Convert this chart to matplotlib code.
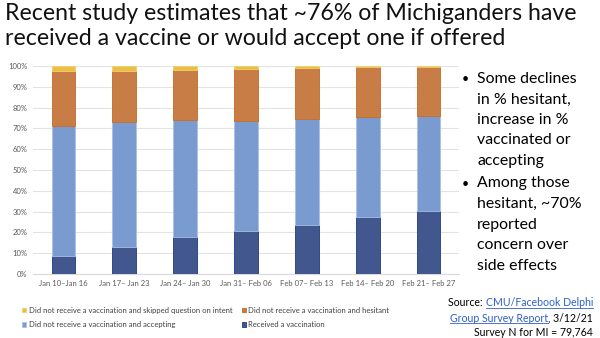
import matplotlib
matplotlib.use("Agg")
from matplotlib import pyplot as plt
from matplotlib.lines import Line2D
import numpy as np

weeks = ["Jan 10\u2013Jan 16", "Jan 17\u2013 Jan 23", "Jan 24\u2013 Jan 30", "Jan 31\u2013 Feb 06",
         "Feb 07\u2013 Feb 13", "Feb 14\u2013 Feb 20", "Feb 21\u2013 Feb 27"]
received = [8.5, 13.1, 17.7, 20.8, 23.7, 27.6, 30.4]
accepting = [62.7, 60.0, 56.2, 52.8, 50.8, 47.7, 45.4]
hesitant = [26.5, 24.6, 24.3, 24.8, 24.7, 24.0, 23.8]
skipped = [2.3, 2.3, 1.8, 1.6, 0.8, 0.7, 0.4]

plt.rcParams["font.family"] = ["Lato", "DejaVu Sans"]

fig = plt.figure(figsize=(6, 3.38), dpi=100)
ax = fig.add_axes([0.055, 0.189, 0.71, 0.616])

x = np.arange(len(weeks))
w = 0.39
bottom = np.zeros(len(weeks))
series = [
    (received, "#43578F", "#1F3A80", "Received a vaccination"),
    (accepting, "#7A9BCF", "#A9BFE3", "Did not receive a vaccination and accepting"),
    (hesitant, "#C97D46", "#C46A22", "Did not receive a vaccination and hesitant"),
    (skipped, "#EBBE45", "#F2CF6A", "Did not receive a vaccination and skipped question on intent"),
]
bars = {}
for vals, col, edge, name in series:
    bars[name] = ax.bar(x, vals, w, bottom=bottom, color=col, edgecolor=edge,
                        linewidth=0.6, label=name, zorder=3)
    bottom += np.array(vals)

ax.set_xlim(-0.5, 6.5)
ax.set_ylim(0, 100)
ax.set_yticks(range(0, 101, 10))
ax.set_yticklabels([f"{v}%" for v in range(0, 101, 10)])
ax.set_xticks(x)
ax.set_xticklabels(weeks)
ax.tick_params(labelsize=5.5, colors="#595959", length=0, pad=4)
ax.grid(axis="y", color="#E3E3E3", linewidth=0.8, zorder=0)
for s in ["top", "right", "left"]:
    ax.spines[s].set_visible(False)
ax.spines["bottom"].set_color("#D9D9D9")

order = ["Did not receive a vaccination and skipped question on intent",
         "Did not receive a vaccination and accepting",
         "Did not receive a vaccination and hesitant",
         "Received a vaccination"]
fig.legend([bars[n] for n in order], order, ncol=2, loc="upper left",
           bbox_to_anchor=(0.025, 0.113), frameon=False, fontsize=5.5,
           handlelength=0.6, handleheight=0.6, handletextpad=0.3,
           columnspacing=1.2, labelspacing=0.95, labelcolor="#404040")

# title
fig.text(0.008, 0.99, "Recent study estimates that ~76% of Michiganders have\nreceived a vaccine or would accept one if offered",
         fontsize=16.7, va="top", ha="left", linespacing=1.2, color="#111111")

# bullets
bullets = [
    ["Some declines", "in % hesitant,", "increase in %", "vaccinated or", "accepting"],
    ["Among those", "hesitant, ~70%", "reported", "concern over", "side effects"],
]
y = 338 - 79
for lines in bullets:
    fig.text(462 / 600, y / 338, "\u2022", fontsize=9, va="center", ha="left")
    for ln in lines:
        fig.text(477 / 600, y / 338, ln, fontsize=11.4, va="center", ha="left")
        y -= 20.5
    y -= 2

# source
fig.canvas.draw()
r = fig.canvas.get_renderer()
blue = "#2E5FC9"
xr = 593 / 600
fs = 7.6
t1 = fig.text(xr, (338 - 303) / 338, "CMU/Facebook Delphi", fontsize=fs, color=blue, ha="right", va="center")
t2 = fig.text(xr, (338 - 318) / 338, ", 3/12/21", fontsize=fs, ha="right", va="center")
fig.text(xr, (338 - 332) / 338, "Survey N for MI = 79,764", fontsize=fs, ha="right", va="center")
b1 = t1.get_window_extent(r)
fig.text(b1.x0 / 600, (338 - 303) / 338, "Source: ", fontsize=fs, ha="right", va="center")
b2 = t2.get_window_extent(r)
t3 = fig.text(b2.x0 / 600, (338 - 318) / 338, "Group Survey Report", fontsize=fs, color=blue, ha="right", va="center")
b3 = t3.get_window_extent(r)
for bb in (b1, b3):
    fig.add_artist(Line2D([bb.x0 / 600, bb.x1 / 600], [(bb.y0 + 1) / 338] * 2,
                          color=blue, linewidth=0.6, transform=fig.transFigure))

fig.savefig("out.png", dpi=100)
